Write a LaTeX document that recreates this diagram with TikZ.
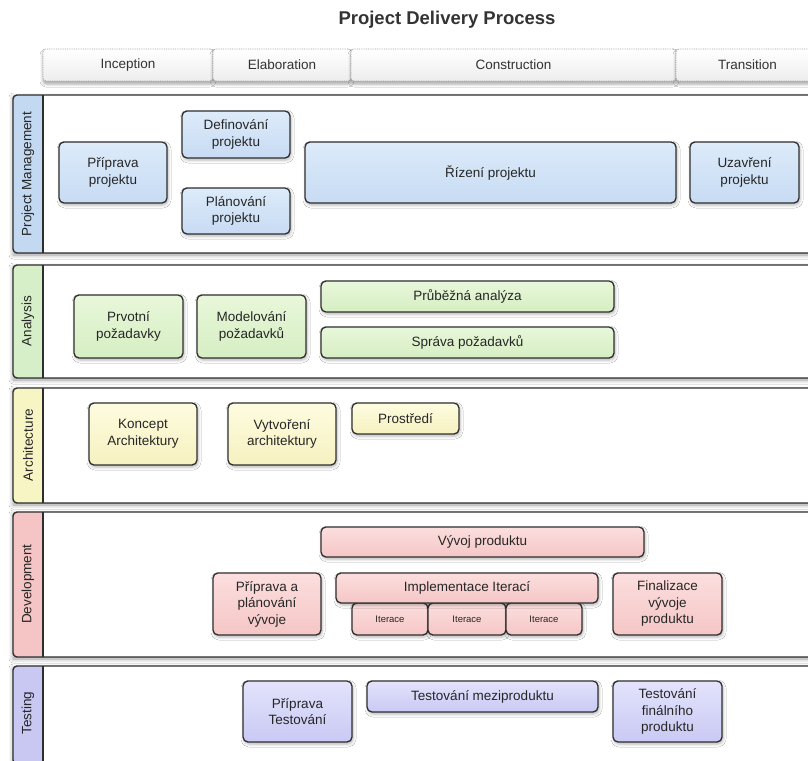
\documentclass[tikz,border=0pt]{standalone}
\usepackage{fontspec}
\setmainfont{Liberation Sans}
\usetikzlibrary{shadows.blur}

\definecolor{inkc}{HTML}{2E2E2E}
\definecolor{textc}{HTML}{262626}
\definecolor{titlec}{HTML}{333333}
\definecolor{pmtop}{HTML}{DDEBFA}
\definecolor{pmbot}{HTML}{C7DBF3}
\definecolor{antop}{HTML}{E8F7DA}
\definecolor{anbot}{HTML}{D6EEC3}
\definecolor{artop}{HTML}{FDFCE0}
\definecolor{arbot}{HTML}{F6F1C0}
\definecolor{dvtop}{HTML}{FCDEDE}
\definecolor{dvbot}{HTML}{F5C6C6}
\definecolor{tstop}{HTML}{E3E3FC}
\definecolor{tsbot}{HTML}{C9C9F4}
\definecolor{pmbar}{HTML}{C3D9F2}
\definecolor{anbar}{HTML}{D7EFC8}
\definecolor{arbar}{HTML}{F8F5C5}
\definecolor{dvbar}{HTML}{F5C4C4}
\definecolor{tsbar}{HTML}{C8C8F2}

% one swimlane: name, top, bottom, bar colour, label
\newcommand\swimlane[5]{%
  \pgfmathsetmacro\laneh{#3-#2}%
  \node[lanebox, minimum height=\laneh pt, anchor=north west] (#1) at (13,#2) {};
  \begin{scope}
    \clip[rounded corners=4pt] (#1.north west) rectangle (#1.south east);
    \fill[#4] (13,#2) rectangle (43,#3);
  \end{scope}
  \draw[laneline] (43,#2) -- (43,#3);
  \draw[laneline, rounded corners=4pt] (#1.north west) rectangle (#1.south east);
}

\begin{document}
\begin{tikzpicture}[x=1pt, y=-1pt,
  lanebox/.style={fill=white, draw=none, minimum width=802pt, outer sep=0pt, inner sep=0pt,
    blur shadow={shadow xshift=0pt, shadow yshift=-2pt, shadow blur radius=4pt, shadow opacity=40}},
  laneline/.style={draw=inkc, line width=1.4pt},
  lanelabel/.style={rotate=90, text=textc, font=\fontsize{13.5}{16}\selectfont},
  phase/.style={draw=gray!75, densely dotted, line width=0.8pt, rounded corners=3pt,
    top color=white, bottom color=gray!14, minimum height=32pt, anchor=north west,
    outer sep=0pt, text=titlec, font=\fontsize{13.5}{16}\selectfont,
    blur shadow={shadow xshift=0pt, shadow yshift=-3pt, shadow blur radius=3pt, shadow opacity=35}},
  box/.style={draw=inkc, line width=1.3pt, rounded corners=5pt, align=center,
    anchor=north west, outer sep=0pt, inner sep=2pt, text=textc,
    font=\fontsize{13.5}{16.5}\selectfont,
    blur shadow={shadow xshift=1pt, shadow yshift=-2pt, shadow blur radius=3pt, shadow opacity=30}},
  pmbox/.style={box, top color=pmtop, bottom color=pmbot},
  anbox/.style={box, top color=antop, bottom color=anbot},
  arbox/.style={box, top color=artop, bottom color=arbot},
  dvbox/.style={box, top color=dvtop, bottom color=dvbot},
  tsbox/.style={box, top color=tstop, bottom color=tsbot},
  itbox/.style={dvbox, font=\fontsize{9.5}{11}\selectfont},
]
\clip (0,0) rectangle (808,760);
\fill[white] (0,0) rectangle (808,760);

% title
\node[text=titlec, font=\fontsize{18.5}{22}\selectfont\bfseries] (title) at (447,20) {Project Delivery Process};

% phase header
\node[phase, minimum width=170pt] (inception) at (43,49) {Inception};
\node[phase, minimum width=138pt] (elaboration) at (213,49) {Elaboration};
\node[phase, minimum width=325pt] (construction) at (351,49) {Construction};
\node[phase, minimum width=139pt, text width=125pt, align=left] (transition) at (676,49) {\hspace*{35pt}Transition};

% swimlanes
\swimlane{pm}{95}{253}{pmbar}{Project Management}
\swimlane{an}{265}{378}{anbar}{Analysis}
\swimlane{ar}{388}{503}{arbar}{Architecture}
\swimlane{dv}{512}{657}{dvbar}{Development}
\swimlane{ts}{666}{764}{tsbar}{Testing}

\node[lanelabel] (pm-label) at (28,174) {Project Management};
\node[lanelabel] (an-label) at (28,321) {Analysis};
\node[lanelabel] (ar-label) at (28,445) {Architecture};
\node[lanelabel] (dv-label) at (28,584) {Development};
\node[lanelabel] (ts-label) at (28,713) {Testing};

% project management
\node[pmbox, minimum width=108pt, minimum height=61pt] (pprip) at (59,142) {Příprava\\projektu};
\node[pmbox, minimum width=108pt, minimum height=47pt] (pdef) at (182,111) {Definování\\projektu};
\node[pmbox, minimum width=108pt, minimum height=46pt] (pplan) at (182,188) {Plánování\\projektu};
\node[pmbox, minimum width=371pt, minimum height=61pt] (priz) at (305,142) {Řízení projektu};
\node[pmbox, minimum width=109pt, minimum height=61pt] (puzav) at (690,142) {Uzavření\\projektu};

% analysis
\node[anbox, minimum width=109pt, minimum height=63pt] (aprv) at (74,295) {Prvotní\\požadavky};
\node[anbox, minimum width=109pt, minimum height=63pt] (amod) at (197,295) {Modelování\\požadavků};
\node[anbox, minimum width=293pt, minimum height=31pt] (aprub) at (321,281) {Průběžná analýza};
\node[anbox, minimum width=293pt, minimum height=31pt] (aspr) at (321,327) {Správa požadavků};

% architecture
\node[arbox, minimum width=108pt, minimum height=62pt] (rkon) at (89,403) {Koncept\\Architektury};
\node[arbox, minimum width=108pt, minimum height=62pt] (rvyt) at (228,403) {Vytvoření\\architektury};
\node[arbox, minimum width=107pt, minimum height=31pt] (rpro) at (352,403) {Prostředí};

% development
\node[dvbox, minimum width=323pt, minimum height=30pt] (dvyv) at (321,527) {Vývoj produktu};
\node[dvbox, minimum width=108pt, minimum height=62pt] (dprip) at (213,573) {Příprava a\\plánování\\vývoje};
\node[itbox, minimum width=76pt, minimum height=32pt] (dit1) at (352,603) {Iterace};
\node[itbox, minimum width=78pt, minimum height=32pt] (dit2) at (428,603) {Iterace};
\node[itbox, minimum width=76pt, minimum height=32pt] (dit3) at (506,603) {Iterace};
\node[dvbox, minimum width=262pt, minimum height=30pt] (dimpl) at (336,573) {Implementace Iterací};
\node[dvbox, minimum width=109pt, minimum height=62pt] (dfin) at (613,573) {Finalizace\\vývoje\\produktu};

% testing
\node[tsbox, minimum width=109pt, minimum height=61pt] (tprip) at (243,681) {Příprava\\Testování};
\node[tsbox, minimum width=231pt, minimum height=31pt] (tmez) at (367,681) {Testování meziproduktu};
\node[tsbox, minimum width=109pt, minimum height=61pt] (tfin) at (613,681) {Testování\\finálního\\produktu};
\end{tikzpicture}
\end{document}
